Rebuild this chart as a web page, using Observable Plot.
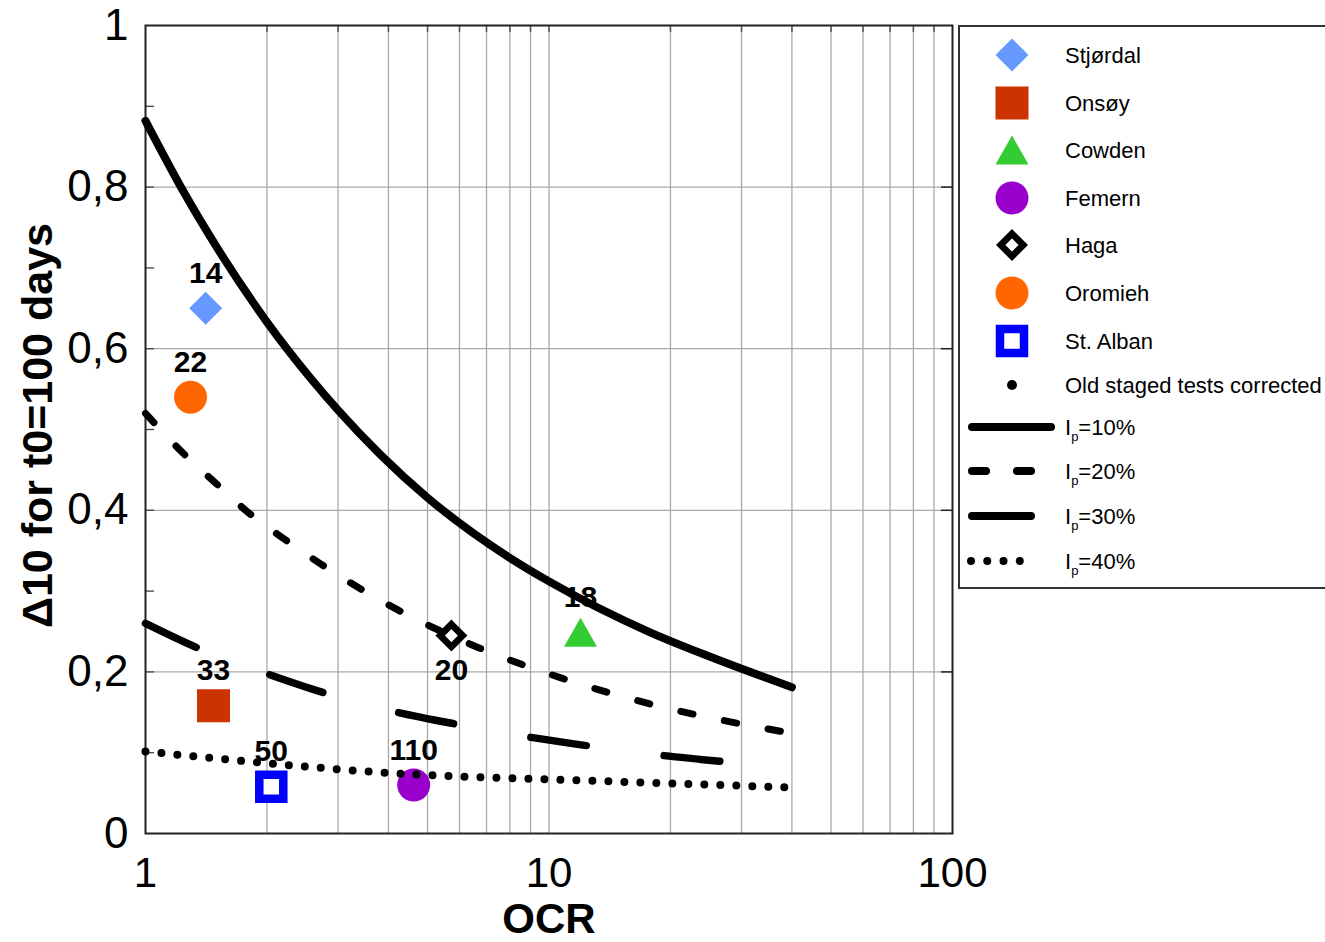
<!DOCTYPE html>
<html><head><meta charset="utf-8">
<script src="https://cdn.jsdelivr.net/npm/d3@7"></script>
<script src="https://cdn.jsdelivr.net/npm/@observablehq/plot@0.6"></script>
<style>
html,body{margin:0;padding:0;background:#fff;overflow:hidden;}
#wrap{position:relative;width:1325px;height:942px;overflow:hidden;font-family:"Liberation Sans",Arial,sans-serif;}
#legend{position:absolute;left:958px;top:25px;}
</style></head><body><div id="wrap"></div>
<script>
// ---- data ----
const sites = ["Stjørdal", "Onsøy", "Cowden", "Femern", "Haga", "Oromieh", "St. Alban"];
const siteOCR = [1.41, 1.474, 11.97, 4.62, 5.73, 1.293, 2.05];
const siteDelta = [0.65, 0.158, 0.249, 0.06, 0.245, 0.54, 0.058];
const siteLabels = ["14", "33", "18", "110", "20", "22", "50"];

const ip10OCR = [1, 1.25, 1.5, 2, 2.59, 3, 3.82, 5, 8.03, 10, 17.8, 25, 40];
const ip10Delta = [0.882, 0.792, 0.726, 0.633, 0.561, 0.524, 0.469, 0.4156, 0.3406, 0.312, 0.249, 0.219, 0.181];
const ip20OCR = [1, 1.235, 1.49, 1.8, 2.2, 2.71, 4.21, 6.69, 10.8, 17.6, 40];
const ip20Delta = [0.52, 0.4715, 0.434, 0.397, 0.365, 0.334, 0.277, 0.23, 0.192, 0.161, 0.124];
const ip30OCR = [1, 1.37, 2.02, 2.82, 4.21, 5.93, 9, 12.7, 19.2, 27.1];
const ip30Delta = [0.26, 0.228, 0.197, 0.173, 0.15, 0.135, 0.119, 0.108, 0.0965, 0.089];
const ip40OCR = [1, 2.04, 4.28, 10, 20, 40];
const ip40Delta = [0.1015, 0.0866, 0.074, 0.067, 0.062, 0.057];

const curveNames = ["Ip=10%", "Ip=20%", "Ip=30%", "Ip=40%"];
const oldTestsLabel = "Old staged tests corrected";

const xTickValues = [1, 10, 100];
const xTickLabels = ["1", "10", "100"];
const xGridTicks = [2, 3, 4, 5, 6, 7, 8, 9, 10, 20, 30, 40, 50, 60, 70, 80, 90];
const yTickValues = [0, 0.2, 0.4, 0.6, 0.8, 1];
const yTickLabels = ["0", "0,2", "0,4", "0,6", "0,8", "1"];
const yMinorTicks = [0.1, 0.2, 0.3, 0.4, 0.5, 0.6, 0.7, 0.8, 0.9];
const xTitle = "OCR";
const yTitle = "Δ10 for t0=100 days";

// ---- tables ----
const siteData = sites.map((s, i) => ({site: s, ocr: siteOCR[i], delta: siteDelta[i], label: siteLabels[i]}));
const toRows = (xs, ys) => xs.map((v, i) => ({ocr: v, delta: ys[i]}));
const ip10 = toRows(ip10OCR, ip10Delta);
const ip20 = toRows(ip20OCR, ip20Delta);
const ip30 = toRows(ip30OCR, ip30Delta);
const ip40 = toRows(ip40OCR, ip40Delta);

// ---- symbols ----
const rad = size => Math.sqrt(size / Math.PI);
const diamondSym = {draw(c, s) { const r = rad(s); c.moveTo(0, -r); c.lineTo(r, 0); c.lineTo(0, r); c.lineTo(-r, 0); c.closePath(); }};
const squareSym = {draw(c, s) { const r = rad(s); c.moveTo(-r, -r); c.lineTo(r, -r); c.lineTo(r, r); c.lineTo(-r, r); c.closePath(); }};
const triSym = {draw(c, s) { const r = rad(s); c.moveTo(0, -0.88 * r); c.lineTo(r, 0.88 * r); c.lineTo(-r, 0.88 * r); c.closePath(); }};
const circleSym = {draw(c, s) { const r = rad(s); c.moveTo(r, 0); c.arc(0, 0, r, 0, 2 * Math.PI); }};

const siteStyle = {
  "Stjørdal": {symbol: diamondSym, r: 16.5, fill: "#6699ff", stroke: "none", strokeWidth: 0},
  "Onsøy": {symbol: squareSym, r: 16.5, fill: "#cc3300", stroke: "none", strokeWidth: 0},
  "Cowden": {symbol: triSym, r: 16.5, fill: "#33cc33", stroke: "none", strokeWidth: 0},
  "Femern": {symbol: circleSym, r: 16.5, fill: "#9900cc", stroke: "none", strokeWidth: 0},
  "Haga": {symbol: diamondSym, r: 11.25, fill: "white", stroke: "black", strokeWidth: 6.7},
  "Oromieh": {symbol: circleSym, r: 16.5, fill: "#ff6600", stroke: "none", strokeWidth: 0},
  "St. Alban": {symbol: squareSym, r: 12, fill: "white", stroke: "#0000ff", strokeWidth: 8.5}
};
const lineStyle = [
  {strokeWidth: 8, dash: null},
  {strokeWidth: 7, dash: "12.5,32"},
  {strokeWidth: 7.5, dash: "56,78.5"},
  {strokeWidth: 8, dash: "0,16"}
];

const dotMarks = sites.map(s => Plot.dot(siteData.filter(d => d.site === s), {
  x: "ocr", y: "delta", symbol: siteStyle[s].symbol, r: siteStyle[s].r,
  fill: siteStyle[s].fill, stroke: siteStyle[s].stroke, strokeWidth: siteStyle[s].strokeWidth,
  strokeLinejoin: "miter"
}));

const lineMark = (rows, k) => Plot.line(rows, {
  x: "ocr", y: "delta", curve: "monotone-x", stroke: "black",
  strokeWidth: lineStyle[k].strokeWidth, strokeLinecap: "round",
  strokeDasharray: lineStyle[k].dash
});

const chart = Plot.plot({
  width: 1325, height: 942,
  marginLeft: 145, marginRight: 373, marginTop: 25, marginBottom: 109,
  x: {type: "log", domain: [1, 100]},
  y: {domain: [0, 1]},
  style: {fontFamily: '"Liberation Sans", Arial, sans-serif', background: "white", color: "black"},
  marks: [
    Plot.gridX({ticks: xGridTicks, stroke: "#a8a8a8", strokeOpacity: 1, strokeWidth: 1.3}),
    Plot.gridY({ticks: [0.2, 0.4, 0.6, 0.8], stroke: "#a8a8a8", strokeOpacity: 1, strokeWidth: 1.3}),
    Plot.axisY({ticks: yMinorTicks, tickSize: -9, tickFormat: () => "", label: null, stroke: "#444", strokeWidth: 1.3}),
    Plot.axisY({anchor: "right", ticks: [0.2, 0.4, 0.6, 0.8], tickSize: -12, tickFormat: () => "", label: null, stroke: "#222", strokeWidth: 1.5}),
    Plot.axisX({anchor: "top", ticks: xGridTicks, tickSize: -6, tickFormat: () => "", label: null, stroke: "#555", strokeWidth: 1.5}),
    Plot.axisX({ticks: xTickValues, tickFormat: d => xTickLabels[xTickValues.indexOf(d)], tickSize: 0, tickPadding: 24, fontSize: 42, label: null}),
    Plot.axisY({ticks: yTickValues, tickFormat: d => yTickLabels[yTickValues.indexOf(d)], tickSize: 0, tickPadding: 17, fontSize: 44, label: null}),
    Plot.frame({stroke: "#222", strokeWidth: 2}),
    Plot.text([xTitle], {frameAnchor: "bottom", textAnchor: "middle", lineAnchor: "middle", dy: 86, fontSize: 42, fontWeight: "bold", fill: "black"}),
    Plot.text([yTitle], {frameAnchor: "left", textAnchor: "middle", lineAnchor: "middle", rotate: -90, dx: -107, dy: -4, fontSize: 43, fontWeight: "bold", fill: "black"}),
    Plot.text(siteData.filter(d => d.site !== "Haga"), {x: "ocr", y: "delta", text: "label", dy: -35, fontSize: 30, fontWeight: "bold", fill: "black"}),
    Plot.text(siteData.filter(d => d.site === "Haga"), {x: "ocr", y: "delta", text: "label", dy: 35, fontSize: 30, fontWeight: "bold", fill: "black"}),
    lineMark(ip10, 0),
    lineMark(ip20, 1),
    lineMark(ip30, 2),
    ...dotMarks,
    lineMark(ip40, 3)
  ]
});
const wrap = document.getElementById("wrap");
wrap.appendChild(chart);

// ---- legend ----
const lg = d3.select(wrap).append("svg").attr("id", "legend")
  .attr("width", 367).attr("height", 564)
  .style("font-family", '"Liberation Sans", Arial, sans-serif');
lg.append("rect").attr("x", 1).attr("y", 1).attr("width", 400).attr("height", 562)
  .attr("fill", "white").attr("stroke", "#333").attr("stroke-width", 2);
const rowY = [30, 78, 125, 173, 220, 268, 316, 360, 402, 446, 491, 536];
const symX = 54, textX = 107, fs = 22;
sites.forEach((s, i) => {
  const st = siteStyle[s];
  const p = d3.path();
  st.symbol.draw(p, Math.PI * st.r * st.r);
  lg.append("path").attr("d", p.toString())
    .attr("transform", `translate(${symX},${rowY[i]})`)
    .attr("fill", st.fill).attr("stroke", st.stroke).attr("stroke-width", st.strokeWidth);
  lg.append("text").attr("x", textX).attr("y", rowY[i] + 8).attr("font-size", fs).text(s);
});
lg.append("circle").attr("cx", symX).attr("cy", rowY[7]).attr("r", 5).attr("fill", "black");
lg.append("text").attr("x", textX).attr("y", rowY[7] + 8).attr("font-size", fs).text(oldTestsLabel);
const legLines = [[14, 93], [14, 73], [14, 73], [13, 78]];
curveNames.forEach((name, k) => {
  const y = rowY[8 + k];
  const ln = lg.append("line").attr("x1", legLines[k][0]).attr("x2", legLines[k][1])
    .attr("y1", y).attr("y2", y).attr("stroke", "black")
    .attr("stroke-width", 8).attr("stroke-linecap", "round");
  if (k === 1) ln.attr("stroke-dasharray", "14,31");
  if (k === 3) ln.attr("stroke-dasharray", "0,16.25");
  const t = lg.append("text").attr("x", textX).attr("y", y + 8).attr("font-size", fs);
  const rest = name.slice(2);
  t.append("tspan").text("I");
  t.append("tspan").attr("font-size", 13).attr("dy", 6).text("p");
  t.append("tspan").attr("dy", -6).text(rest);
});
</script></body></html>
